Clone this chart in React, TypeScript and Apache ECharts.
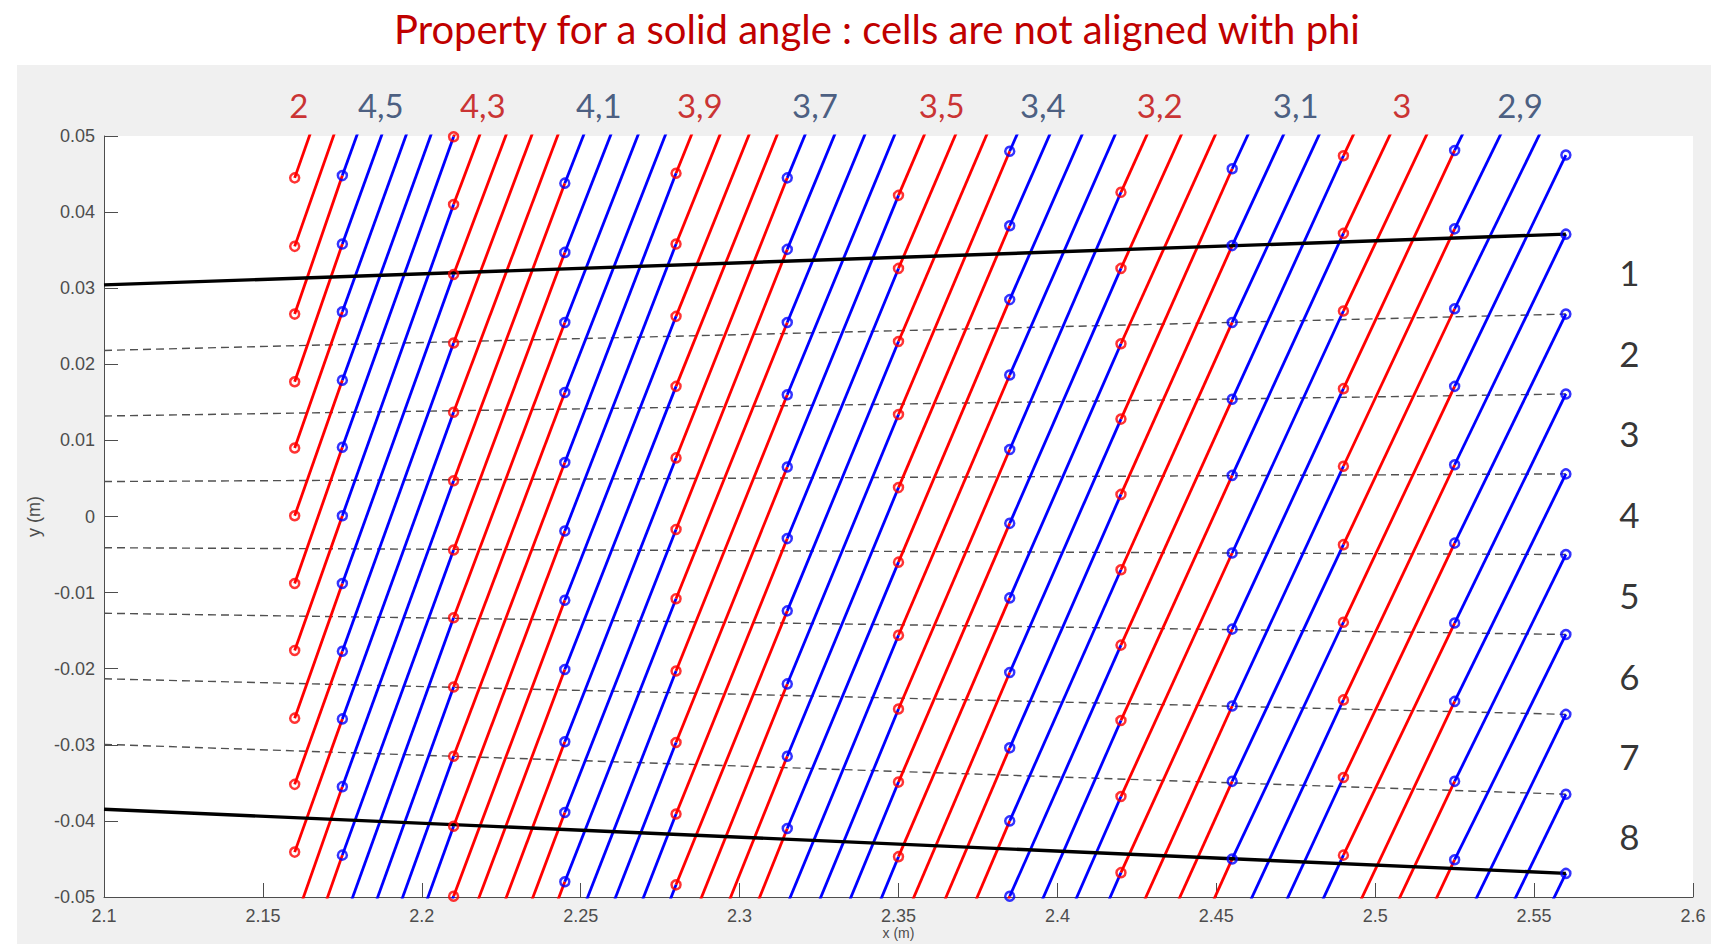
import React, { useEffect, useRef } from "react";
import * as echarts from "echarts";

// x positions of the marker columns (m)
const xColumns = [2.16, 2.175, 2.21, 2.245, 2.28, 2.315, 2.35, 2.385, 2.42, 2.455, 2.49, 2.525, 2.56];

// marker y values (m) on each column, bottom to top
const col2160 = [-0.0441, -0.0352, -0.0265, -0.0176, -0.0088, 0.0001, 0.009, 0.0177, 0.0266, 0.0355, 0.0445];
const col2175 = [-0.0445, -0.0355, -0.0266, -0.0177, -0.0088, 0.0001, 0.0091, 0.0179, 0.0269, 0.0358, 0.0448];
const col2210 = [-0.0499, -0.0407, -0.0315, -0.0224, -0.0133, -0.0044, 0.0047, 0.0137, 0.0228, 0.0318, 0.041, 0.0499];
const col2245 = [-0.048, -0.0389, -0.0296, -0.0201, -0.011, -0.0019, 0.0071, 0.0163, 0.0255, 0.0347, 0.0438];
const col2280 = [-0.0484, -0.0391, -0.0297, -0.0203, -0.0108, -0.0017, 0.0077, 0.0171, 0.0263, 0.0358, 0.0451];
const col2315 = [-0.041, -0.0315, -0.022, -0.0124, -0.0029, 0.0065, 0.016, 0.0255, 0.0351, 0.0445];
const col2350 = [-0.0447, -0.0349, -0.0253, -0.0156, -0.006, 0.0038, 0.0134, 0.023, 0.0326, 0.0422];
const col2385 = [-0.0499, -0.04, -0.0304, -0.0205, -0.0107, -0.0009, 0.0088, 0.0186, 0.0285, 0.0382, 0.048];
const col2420 = [-0.0468, -0.0368, -0.0268, -0.0169, -0.007, 0.0029, 0.0128, 0.0227, 0.0326, 0.0426];
const col2455 = [-0.045, -0.0348, -0.0249, -0.0148, -0.0048, 0.0054, 0.0154, 0.0255, 0.0356, 0.0457];
const col2490 = [-0.0445, -0.0343, -0.0241, -0.0139, -0.0037, 0.0066, 0.0168, 0.027, 0.0372, 0.0474];
const col2525 = [-0.0451, -0.0348, -0.0243, -0.014, -0.0035, 0.0068, 0.0171, 0.0273, 0.0378, 0.0481];
const col2560 = [-0.0469, -0.0365, -0.026, -0.0155, -0.005, 0.0056, 0.0161, 0.0266, 0.0371, 0.0475];
const columnMarkers = [col2160, col2175, col2210, col2245, col2280, col2315, col2350, col2385, col2420, col2455, col2490, col2525, col2560];

// index shift of the marker reached on the next column, per region
const regionShifts = [2, 5, 4, 4, 3, 4, 4, 3, 3, 3, 3, 3];

// labels above each region
const regionLabels = ["2", "4,5", "4,3", "4,1", "3,9", "3,7", "3,5", "3,4", "3,2", "3,1", "3", "2,9"];
const regionLabelX = [2.1613, 2.1871, 2.2192, 2.2557, 2.2875, 2.3237, 2.3636, 2.3954, 2.4322, 2.475, 2.5084, 2.5456];

// rays from the origin: y reached at x = 2.56 (first and last are the solid bounds)
const rayEndY = [0.0371, 0.0266, 0.0161, 0.0056, -0.005, -0.0155, -0.026, -0.0365, -0.0469];
const sectorLabels = ["1", "2", "3", "4", "5", "6", "7", "8"];

const RED = "#ff0000";
const BLUE = "#0000ff";
const X_MIN = 2.1;
const X_MAX = 2.6;
const X_RAY_END = 2.56;
const X_SECTOR_LABEL = 2.58;

function buildSegments() {
  const red: any[] = [];
  const blue: any[] = [];
  for (let r = 0; r < xColumns.length - 1; r++) {
    const L = columnMarkers[r];
    const R = columnMarkers[r + 1];
    const s = regionShifts[r];
    const xL = xColumns[r];
    const xR = xColumns[r + 1];
    let sum = 0;
    let n = 0;
    for (let i = 0; i < L.length; i++) {
      if (i + s < R.length) {
        sum += R[i + s] - L[i];
        n++;
      }
    }
    const rise = sum / n;
    const segs = r % 2 === 0 ? red : blue;
    for (let i = 0; i < L.length; i++) {
      const yR = i + s < R.length ? R[i + s] : L[i] + rise;
      segs.push({ coords: [[xL, L[i]], [xR, yR]] });
    }
    for (let j = 0; j < R.length; j++) {
      if (j - s < 0 || j - s >= L.length) {
        segs.push({ coords: [[xL, R[j] - rise], [xR, R[j]]] });
      }
    }
  }
  return { red, blue };
}

function buildMarkers() {
  const red: number[][] = [];
  const blue: number[][] = [];
  const nRegions = xColumns.length - 1;
  xColumns.forEach((x, c) => {
    const regionIdx = Math.min(c, nRegions - 1);
    const target = regionIdx % 2 === 0 ? red : blue;
    columnMarkers[c].forEach((y) => target.push([x, y]));
  });
  return { red, blue };
}

const fmt = (v: number) => {
  const n = parseFloat(v.toFixed(3));
  return (n === 0 ? 0 : n).toString();
};

export default function App() {
  const ref = useRef<HTMLDivElement>(null);

  useEffect(() => {
    if (!ref.current) return;
    const chart = echarts.init(ref.current, null, { renderer: "svg" });
    const segs = buildSegments();
    const marks = buildMarkers();

    const raySegs = rayEndY.map((yEnd) => ({
      coords: [
        [X_MIN, (yEnd * X_MIN) / X_RAY_END],
        [X_RAY_END, yEnd],
      ],
    }));
    const solidRays = [raySegs[0], raySegs[raySegs.length - 1]];
    const dashedRays = raySegs.slice(1, raySegs.length - 1);

    const sectorData = sectorLabels.map((name, k) => {
      const a = (rayEndY[k] * X_SECTOR_LABEL) / X_RAY_END;
      const b = (rayEndY[k + 1] * X_SECTOR_LABEL) / X_RAY_END;
      return { name, value: [X_SECTOR_LABEL, (a + b) / 2] };
    });

    const topLabelData = regionLabels.map((name, k) => ({
      name,
      value: [regionLabelX[k], 0.5],
      label: { color: k % 2 === 0 ? "#c00000" : "#203864" },
    }));

    const axisGray = "#4d4d4d";

    chart.setOption({
      animation: false,
      title: {
        text: "Property for a solid angle : cells are not aligned with phi",
        left: 872,
        top: 4,
        textAlign: "center",
        textStyle: { color: "#c00000", fontSize: 40, fontWeight: "normal", fontFamily: "Lato" },
      },
      grid: [
        {
          left: 104,
          right: 18,
          top: 136,
          bottom: 47,
          show: true,
          backgroundColor: "#ffffff",
          borderWidth: 0,
          containLabel: false,
          outerBoundsMode: "none",
        },
        { left: 104, right: 18, top: 75, height: 60, show: false, containLabel: false, outerBoundsMode: "none" },
      ],
      xAxis: [
        {
          type: "value",
          gridIndex: 0,
          min: X_MIN,
          max: X_MAX,
          interval: 0.05,
          name: "x (m)",
          nameLocation: "middle",
          nameGap: 29,
          nameMoveOverlap: false,
          nameTextStyle: {
            color: axisGray,
            fontSize: 14,
            lineHeight: 14,
            verticalAlign: "top",
            fontFamily: "Liberation Sans",
          },
          axisLine: { show: true, onZero: false, lineStyle: { color: axisGray, width: 1 } },
          axisTick: { show: true, inside: true, length: 14, lineStyle: { color: axisGray } },
          axisLabel: { color: axisGray, fontSize: 18, fontFamily: "Liberation Sans", margin: 10, formatter: fmt },
          splitLine: { show: false },
        },
        { type: "value", gridIndex: 1, min: X_MIN, max: X_MAX, show: false },
      ],
      yAxis: [
        {
          type: "value",
          gridIndex: 0,
          min: -0.05,
          max: 0.05,
          interval: 0.01,
          name: "y (m)",
          nameLocation: "middle",
          nameRotate: 90,
          nameGap: 54,
          nameTextStyle: { color: axisGray, fontSize: 18, fontFamily: "Liberation Sans" },
          axisLine: { show: true, onZero: false, lineStyle: { color: axisGray, width: 1 } },
          axisTick: { show: true, inside: true, length: 14, lineStyle: { color: axisGray } },
          axisLabel: { color: axisGray, fontSize: 18, fontFamily: "Liberation Sans", margin: 9, formatter: fmt },
          splitLine: { show: false },
        },
        { type: "value", gridIndex: 1, min: 0, max: 1, show: false },
      ],
      series: [
        {
          type: "lines",
          coordinateSystem: "cartesian2d",
          xAxisIndex: 0,
          yAxisIndex: 0,
          clip: true,
          silent: true,
          data: dashedRays,
          lineStyle: { color: "#505050", width: 1.4, type: [8, 5], opacity: 1 },
          z: 1,
        },
        {
          type: "lines",
          coordinateSystem: "cartesian2d",
          xAxisIndex: 0,
          yAxisIndex: 0,
          clip: true,
          silent: true,
          data: segs.red,
          lineStyle: { color: RED, width: 2.8, opacity: 1 },
          z: 2,
        },
        {
          type: "lines",
          coordinateSystem: "cartesian2d",
          xAxisIndex: 0,
          yAxisIndex: 0,
          clip: true,
          silent: true,
          data: segs.blue,
          lineStyle: { color: BLUE, width: 2.8, opacity: 1 },
          z: 2,
        },
        {
          type: "lines",
          coordinateSystem: "cartesian2d",
          xAxisIndex: 0,
          yAxisIndex: 0,
          clip: true,
          silent: true,
          data: solidRays,
          lineStyle: { color: "#000000", width: 3.4, opacity: 1 },
          z: 3,
        },
        {
          type: "scatter",
          xAxisIndex: 0,
          yAxisIndex: 0,
          silent: true,
          symbol: "circle",
          symbolSize: 9,
          data: marks.red,
          itemStyle: { color: "rgba(0,0,0,0)", borderColor: RED, borderWidth: 2.5 },
          z: 4,
        },
        {
          type: "scatter",
          xAxisIndex: 0,
          yAxisIndex: 0,
          silent: true,
          symbol: "circle",
          symbolSize: 9,
          data: marks.blue,
          itemStyle: { color: "rgba(0,0,0,0)", borderColor: BLUE, borderWidth: 2.5 },
          z: 4,
        },
        {
          type: "scatter",
          xAxisIndex: 0,
          yAxisIndex: 0,
          silent: true,
          symbolSize: 0,
          data: sectorData,
          label: {
            show: true,
            position: "inside",
            formatter: "{b}",
            color: "#000000",
            fontSize: 35,
            fontFamily: "Lato",
          },
          z: 5,
        },
        {
          type: "scatter",
          xAxisIndex: 1,
          yAxisIndex: 1,
          silent: true,
          symbolSize: 0,
          data: topLabelData,
          label: {
            show: true,
            position: "inside",
            formatter: "{b}",
            fontSize: 33,
            fontFamily: "Lato",
          },
          z: 5,
        },
      ],
    });

    return () => chart.dispose();
  }, []);

  return (
    <div style={{ position: "fixed", left: 0, top: 0, width: 1711, height: 944, background: "#ffffff" }}>
      <div style={{ position: "absolute", left: 17, top: 65, width: 1694, height: 879, background: "#f0f0f0" }} />
      <div ref={ref} style={{ position: "absolute", left: 0, top: 0, width: 1711, height: 944 }} />
    </div>
  );
}
